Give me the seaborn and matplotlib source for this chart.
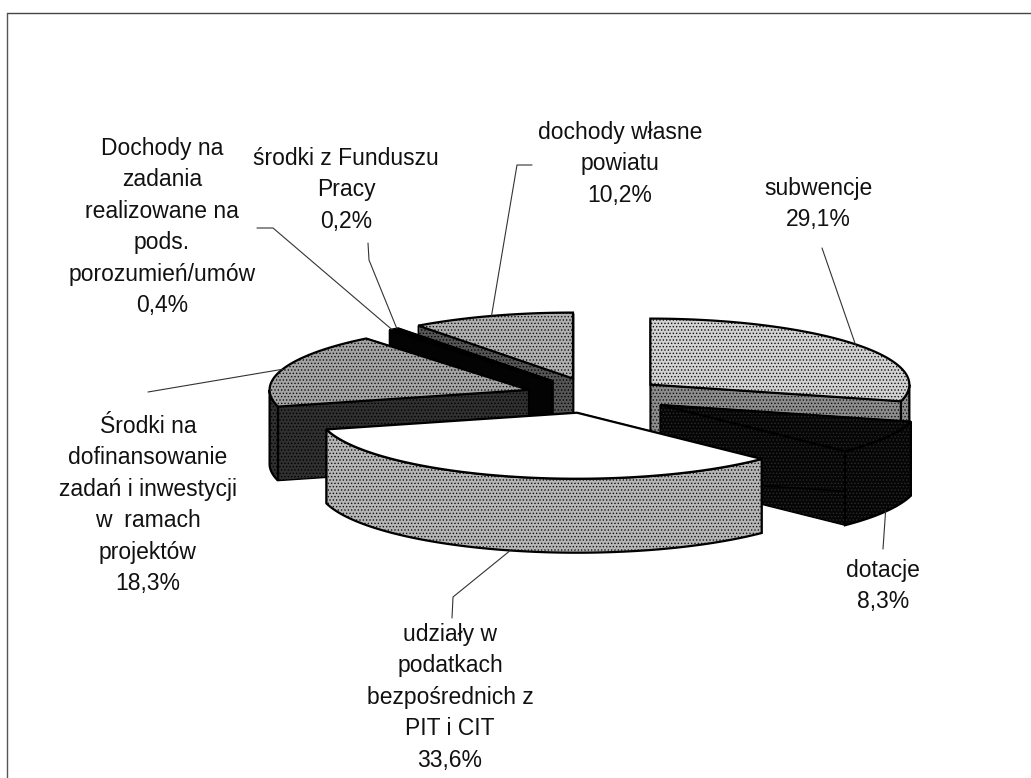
import numpy as np
import matplotlib
matplotlib.use('Agg')
import matplotlib.pyplot as plt
import seaborn as sns
from matplotlib.patches import Polygon

# dane
labels = ['subwencje', 'dotacje', 'udziały w\npodatkach\nbezpośrednich z\nPIT i CIT',
          'Środki na\ndofinansowanie\nzadań i inwestycji\nw  ramach\nprojektów',
          'Dochody na\nzadania\nrealizowane na\npods.\nporozumień/umów',
          'środki z Funduszu\nPracy', 'dochody własne\npowiatu']
values = [29.1, 8.3, 33.6, 18.3, 0.4, 0.2, 10.2]
explode = [0.27, 0.29, 0.27, 0.27, 0.27, 0.27, 0.27]
top_colors = ['#d2d2d2', '#060606', '#ffffff', '#a4a4a4', '#030303', '#060606', '#b0b0b0']
side_colors = ['#8c8c8c', '#060606', '#b6b6b6', '#303030', '#030303', '#4a4a4a', '#555555']
top_dots = ['#111111', '#2c2c2c', '#111111', '#111111', '#030303', '#2c2c2c', '#111111']
side_dots = ['#111111', '#2c2c2c', '#111111', '#000000', '#030303', '#000000', '#000000']
draw_order = [0, 6, 5, 4, 3, 1, 2]

# polozenie opisow (piksele)
label_xy = [(818, 188), (883, 570), (450, 634), (148, 426), (162, 148), (346, 158), (620, 132)]
leader_paths = [[(822, 248)], [(883, 549)], [(452, 618), (453, 597)], [(148, 392)],
                [(257, 228), (273, 228)], [(368, 243), (369, 260)], [(532, 165), (517, 165)]]
leader_bottom = [False, True, True, False, False, False, False]

W, H = 1031, 778
RX, RY = 259, 66
CX, CY = 595, 395.5
DEPTH = 74 / RY

sns.set_style('white')
plt.rcParams['font.family'] = ['Liberation Sans', 'DejaVu Sans']
plt.rcParams['hatch.linewidth'] = 0.6

fig = plt.figure(figsize=(W / 100, H / 100), dpi=100, facecolor='white')
ax = fig.add_axes([0, 0, 1, 1])

wedges, _ = ax.pie(values, explode=explode, startangle=90, counterclock=False,
                   colors=top_colors, radius=1)
ax.set_aspect('auto')
ax.set_xlim(-CX / RX, (W - CX) / RX)
ax.set_ylim((CY - H) / RY, CY / RY)
ax.axis('off')


def to_fig(p):
    return p[0] / W, 1 - p[1] / H


def shade(pts, face, dots, z, hatch='.....', edge_lw=1.0):
    ax.add_patch(Polygon(pts, closed=True, facecolor=face, edgecolor=dots, lw=0, hatch=hatch, zorder=z))
    ax.add_patch(Polygon(pts, closed=True, facecolor='none', edgecolor='black', lw=edge_lw, zorder=z))


z = 2
for i in draw_order:
    w = wedges[i]
    cx, cy = w.center
    t1, t2 = w.theta1, w.theta2
    a1, a2 = np.radians(t1), np.radians(t2)
    corner1 = (cx + np.cos(a1), cy + np.sin(a1))
    corner2 = (cx + np.cos(a2), cy + np.sin(a2))
    # sciany ciecia
    for corner in (corner1, corner2):
        pts = [(cx, cy), corner, (corner[0], corner[1] - DEPTH), (cx, cy - DEPTH)]
        shade(pts, side_colors[i], side_dots[i], z)
        z += 1
    # sciana zewnetrzna - tylko przednia czesc luku
    for lo, hi in ((t1, t2), (t1 - 360, t2 - 360), (t1 + 360, t2 + 360)):
        s, e = max(lo, 180), min(hi, 360)
        if e > s:
            th = np.radians(np.linspace(s, e, 80))
            upper = np.c_[cx + np.cos(th), cy + np.sin(th)]
            lower = upper[::-1] - [0, DEPTH]
            shade(np.vstack([upper, lower]), side_colors[i], side_dots[i], z, edge_lw=1.6)
            z += 1
    # wierzch
    th = np.radians(np.linspace(t1, t2, 120))
    top = np.vstack([[(cx, cy)], np.c_[cx + np.cos(th), cy + np.sin(th)]])
    hatch = None if top_colors[i] == '#ffffff' else '.....'
    shade(top, top_colors[i], top_dots[i], z, hatch=hatch, edge_lw=1.6)
    z += 1
    w.set_visible(False)

# opisy i linie odniesienia
for i, w in enumerate(wedges):
    mid = np.radians((w.theta1 + w.theta2) / 2)
    ax_x = w.center[0] + np.cos(mid)
    ax_y = w.center[1] + np.sin(mid) - (DEPTH if leader_bottom[i] else 0)
    end = fig.transFigure.inverted().transform(ax.transData.transform((ax_x, ax_y)))
    pts = [to_fig(p) for p in leader_paths[i]] + [tuple(end)]
    xs, ys = zip(*pts)
    fig.add_artist(plt.Line2D(xs, ys, color='#333333', lw=0.8, zorder=z))
    pct = f'{values[i]:.1f}%'.replace('.', ',')
    lx, ly = to_fig(label_xy[i])
    fig.text(lx, ly + 11 / H, labels[i] + '\n' + pct, ha='center', va='top', fontsize=16.5,
             linespacing=1.47, color='#111111')

# ramka - na skanie widac tylko gorna i lewa krawedz
fig.add_artist(plt.Line2D([7 / W, 1], [1 - 13 / H, 1 - 13 / H], color='#444444', lw=1))
fig.add_artist(plt.Line2D([7 / W, 7 / W], [0, 1 - 13 / H], color='#555555', lw=1))

fig.savefig('out.png', dpi=100)
